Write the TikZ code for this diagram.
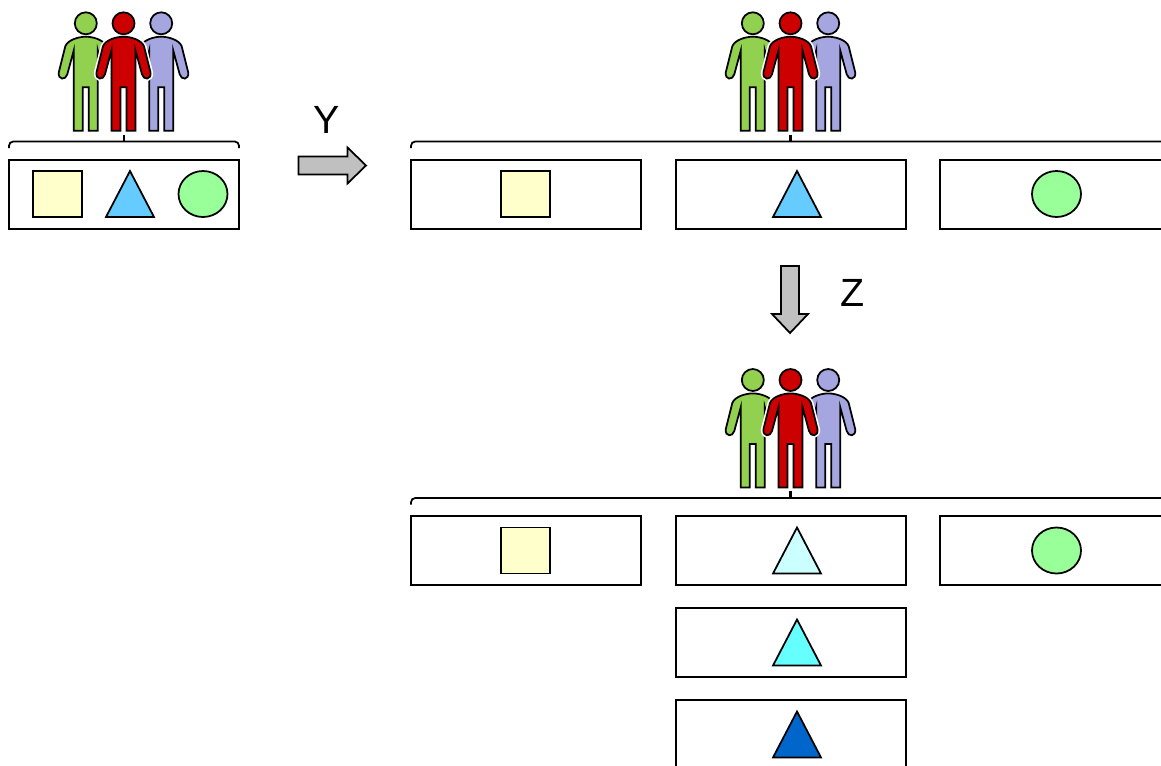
\documentclass[tikz,border=0pt]{standalone}
\usepackage{fontspec}
\setmainfont{Liberation Sans}
\definecolor{pgreen}{HTML}{92D050}
\definecolor{pred}{HTML}{CC0000}
\definecolor{pblue}{HTML}{A5A5E0}
\definecolor{arrowgray}{HTML}{C0C0C0}
\definecolor{squarefill}{HTML}{FFFFCC}
\definecolor{circlefill}{HTML}{99FF99}
\definecolor{trianglefill}{HTML}{66CCFF}
\definecolor{trianglepale}{HTML}{CCFFFF}
\definecolor{trianglemid}{HTML}{66FFFF}
\definecolor{triangledark}{HTML}{0066CC}
\def\personpath{(-12,107.4) -- (-12,27) -- (-18.5,51) .. controls (-20,57) and (-28,57) .. (-27,49) -- (-20.5,23) .. controls (-18,16.5) and (-7,13.4) .. (0,13.4) .. controls (7,13.4) and (18,16.5) .. (20.5,23) -- (27,49) .. controls (28,57) and (20,57) .. (18.5,51) -- (12,27) -- (12,107.4) -- (3,107.4) -- (3,64) -- (-3,64) -- (-3,107.4) -- cycle}
\def\person[#1](#2,#3){
	\begin{scope}[shift={(#2,#3)}]
		\draw[white, line width=3.6pt, line join=round] \personpath;
		\fill[white] (-12,27) -- (-20,56) -- (-12,60) -- cycle;
		\fill[white] (12,27) -- (20,56) -- (12,60) -- cycle;
		\draw[fill=#1] \personpath;
		\draw[fill=#1] (0,0) circle (11);
	\end{scope}
}
\def\people(#1,#2){
	\person[pgreen]({#1-37.7},#2)
	\person[pblue]({#1+37.7},#2)
	\person[pred](#1,#2)
}
\def\bracket(#1:#2:#3:#4){
	\draw[rounded corners=3] (#1,#4+6.5) -- (#1,#4) -- (#2,#4) -- (#2,#4+6.5);
	\draw[line width=1.5pt] (#3,#4) -- (#3,#4-7);
}
\begin{document}
\begin{tikzpicture}[x=0.025cm, y=-0.025cm, line width=1.25pt,
		box/.style={draw, fill=white},
		bigarrow/.style={draw, fill=arrowgray, line join=miter},
		axislabel/.style={font=\fontsize{28}{32}\selectfont, inner sep=0pt}]
	\clip (0,0) rectangle (1161,765);
	
	%%%%% top left group %%%%%
	\people(123.5,23.3)
	\bracket(9:239:124:141.5)
	\draw[box] (9,160) rectangle (239,229);
	\draw[fill=squarefill] (33,171) rectangle (82,217);
	\draw[fill=trianglefill] (130,171) -- (154,217) -- (106,217) -- cycle;
	\draw[fill=circlefill] (203,194) ellipse (24.5 and 23);
	
	%%%%% first arrow %%%%%
	\draw[bigarrow] (298.5,156.5) -- (347.5,156.5) -- (347.5,147.5) -- (366,165.5) -- (347.5,183.5) -- (347.5,174.5) -- (298.5,174.5) -- cycle;
	\node[axislabel] (ylabel) at (327,120) {Y};
	
	%%%%% second group %%%%%
	\people(790.5,23.3)
	\bracket(411:1180:790.5:141.5)
	\draw[box] (411,160) rectangle (641,229);
	\draw[box] (676,160) rectangle (906,229);
	\draw[box] (940,160) rectangle (1170,229);
	\draw[fill=squarefill] (501,171) rectangle (550,217);
	\draw[fill=trianglefill] (797,171) -- (821,217) -- (773,217) -- cycle;
	\draw[fill=circlefill] (1056.5,194) ellipse (24.5 and 23);
	
	%%%%% second arrow %%%%%
	\draw[bigarrow] (781,266) -- (799,266) -- (799,314) -- (808,314) -- (790,333) -- (772,314) -- (781,314) -- cycle;
	\node[axislabel] (zlabel) at (853,293) {Z};
	
	%%%%% third group %%%%%
	\people(790.5,380)
	\bracket(411:1180:790.5:498)
	\draw[box] (411,516) rectangle (641,585);
	\draw[box] (676,516) rectangle (906,585);
	\draw[box] (940,516) rectangle (1170,585);
	\draw[box] (676,608) rectangle (906,677);
	\draw[box] (676,700) rectangle (906,769);
	\draw[fill=squarefill] (501,527.5) rectangle (550,573.5);
	\draw[fill=trianglepale] (797,527.5) -- (821,573.5) -- (773,573.5) -- cycle;
	\draw[fill=trianglemid] (797,619.5) -- (821,665.5) -- (773,665.5) -- cycle;
	\draw[fill=triangledark] (797,711.5) -- (821,757.5) -- (773,757.5) -- cycle;
	\draw[fill=circlefill] (1056.5,550.5) ellipse (24.5 and 23);
\end{tikzpicture}
\end{document}
